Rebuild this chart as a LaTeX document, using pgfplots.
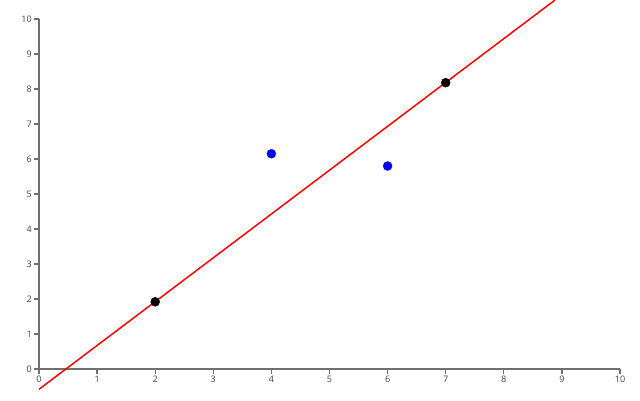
\documentclass[border=0pt]{standalone}
\usepackage{pgfplots}
\pgfplotsset{compat=1.18}
\usepackage{fontspec}
\setmainfont{Open Sans}
\definecolor{axgray}{HTML}{707070}
\definecolor{lblgray}{HTML}{444444}
\begin{document}
\begin{tikzpicture}
\begin{axis}[
  scale only axis,
  width=581pt, height=350pt,
  xmin=0, xmax=10, ymin=0, ymax=10,
  axis x line*=bottom, axis y line*=left,
  axis line style={axgray, line width=1.5pt},
  tick style={axgray, line width=1.2pt},
  tick align=outside,
  major tick length=5pt,
  xtick={0,...,10}, ytick={0,...,10},
  xticklabel style={font=\fontsize{9}{11}\selectfont, text=lblgray, inner sep=2pt},
  yticklabel style={font=\fontsize{9}{11}\selectfont, text=lblgray, inner sep=2pt},
  /pgf/number format/assume math mode=true,
  clip=false,
]
\addplot[red, line width=1.5pt, no marks] coordinates {(0,-0.58) (8.88,10.54)};
\addplot[only marks, mark=*, mark size=4.5pt, black] coordinates {(2,1.92) (7,8.18)};
\addplot[only marks, mark=*, mark size=4.5pt, blue, mark options={draw=blue, fill=blue}] coordinates {(4,6.15) (6,5.8)};
\coordinate (bl) at (axis cs:-0.671,-0.886);
\coordinate (tr) at (axis cs:10.344,10.543);
\end{axis}
\pgfresetboundingbox
\path (bl) rectangle (tr);
\end{tikzpicture}
\end{document}
